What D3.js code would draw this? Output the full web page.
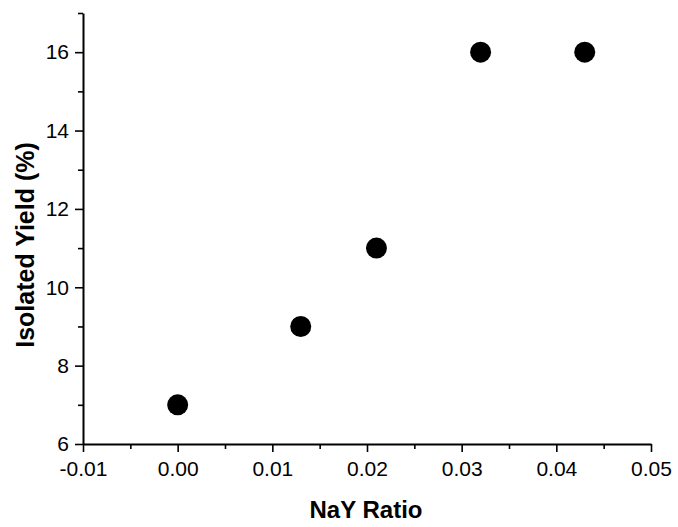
<!DOCTYPE html>
<html>
<head>
<meta charset="utf-8">
<script src="https://cdn.jsdelivr.net/npm/d3@7"></script>
<style>
  body { margin: 0; background: #fff; }
  svg { display: block; font-family: Arial, "Liberation Sans", sans-serif; }
</style>
</head>
<body>
<div id="chart"></div>
<script>
const ratios = [0.0, 0.013, 0.021, 0.032, 0.043];
const yields = [7, 9, 11, 16, 16];
const xTicks = [-0.01, 0, 0.01, 0.02, 0.03, 0.04, 0.05];
const xMinorTicks = [-0.005, 0.005, 0.015, 0.025, 0.035, 0.045];
const yTicks = [6, 8, 10, 12, 14, 16];
const yMinorTicks = [7, 9, 11, 13, 15, 17];

const width = 678;
const height = 527;
const margin = { top: 13, right: 27, bottom: 83, left: 83 };
const innerWidth = width - margin.left - margin.right;
const innerHeight = height - margin.top - margin.bottom;

const svg = d3
  .select("#chart")
  .append("svg")
  .attr("width", width)
  .attr("height", height);

const chart = svg
  .append("g")
  .attr("transform", `translate(${margin.left},${margin.top})`);

const xScale = d3.scaleLinear().domain([-0.01, 0.05]).range([0, innerWidth]);
const yScale = d3.scaleLinear().domain([6, 17]).range([innerHeight, 0]);

// tick labels use a plain hyphen for negatives, like the original
const xFormat = (d) => d3.format(".2f")(d).replace("\u2212", "-");

// minor ticks: short lines, no labels
chart
  .append("g")
  .attr("transform", `translate(0,${innerHeight})`)
  .call(d3.axisBottom(xScale).tickValues(xMinorTicks).tickSize(5).tickSizeOuter(0))
  .call((g) => g.select(".domain").remove())
  .call((g) => g.selectAll("text").remove());

chart
  .append("g")
  .call(d3.axisLeft(yScale).tickValues(yMinorTicks).tickSize(5).tickSizeOuter(0))
  .call((g) => g.select(".domain").remove())
  .call((g) => g.selectAll("text").remove());

chart
  .append("g")
  .attr("transform", `translate(0,${innerHeight})`)
  .call(
    d3.axisBottom(xScale)
      .tickValues(xTicks)
      .tickFormat(xFormat)
      .tickSize(8)
      .tickSizeOuter(0)
      .tickPadding(9)
  );

chart
  .append("g")
  .call(
    d3.axisLeft(yScale)
      .tickValues(yTicks)
      .tickSize(8)
      .tickSizeOuter(0)
      .tickPadding(6)
  );

chart.selectAll(".domain").attr("stroke", "#000").attr("stroke-width", 2);
chart.selectAll(".tick line").attr("stroke", "#000").attr("stroke-width", 1.6);
chart
  .selectAll(".tick text")
  .style("font-size", "21px")
  .style("font-family", "Arial, 'Liberation Sans', sans-serif")
  .attr("fill", "#000");

chart
  .selectAll("circle.pt")
  .data(ratios.map((r, i) => ({ x: r, y: yields[i] })))
  .join("circle")
  .attr("class", "pt")
  .attr("cx", (d) => xScale(d.x))
  .attr("cy", (d) => yScale(d.y))
  .attr("r", 10.5)
  .attr("fill", "#000");

svg
  .append("text")
  .attr("x", 366)
  .attr("y", 518)
  .attr("text-anchor", "middle")
  .style("font-size", "24px")
  .attr("font-weight", "bold")
  .text("NaY Ratio");

svg
  .append("text")
  .attr("transform", "rotate(-90)")
  .attr("x", -245)
  .attr("y", 34)
  .attr("text-anchor", "middle")
  .style("font-size", "25px")
  .attr("font-weight", "bold")
  .text("Isolated Yield (%)");
</script>
</body>
</html>
